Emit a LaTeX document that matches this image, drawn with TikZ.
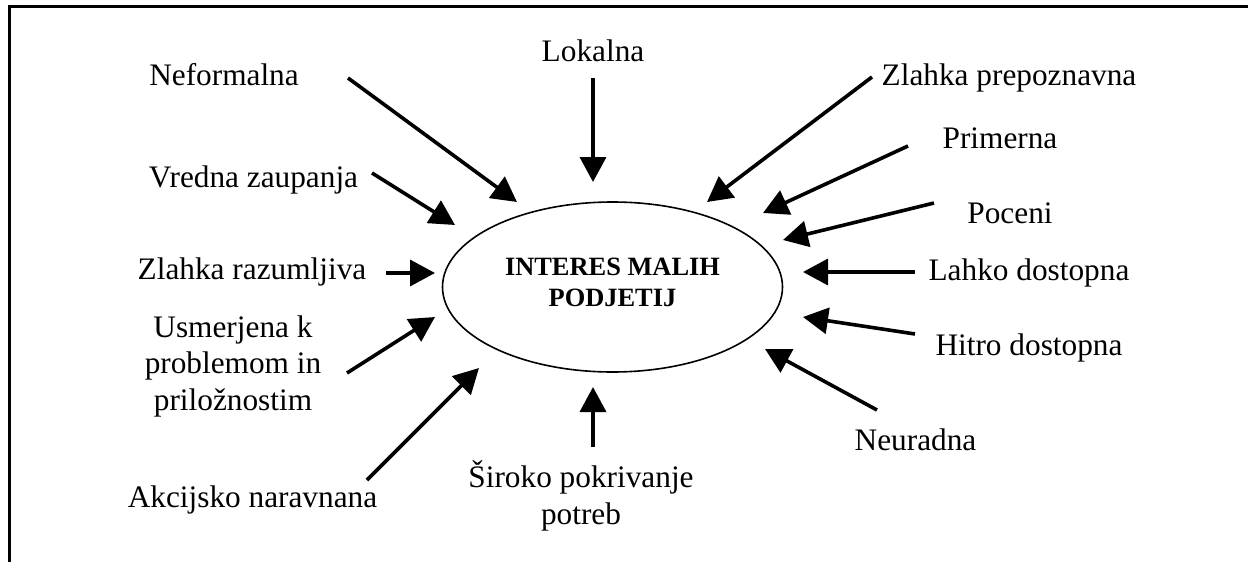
\documentclass[tikz,border=0pt]{standalone}
\usepackage{fontspec}
\setmainfont{Liberation Serif}
\usetikzlibrary{arrows.meta,shapes.geometric}

\tikzset{
  lbl/.style={inner sep=0pt, anchor=base, font=\fontsize{31.3}{36.5}\selectfont},
  mlbl/.style={inner sep=0pt, align=center, font=\fontsize{31.3}{36.5}\selectfont},
  feed/.style={line width=3.6pt, -{Triangle[length=25pt,width=26pt]}},
  frame/.style={line width=3pt},
  core/.style={draw, ellipse, line width=1.6pt, inner sep=0pt,
    minimum width=340pt, minimum height=170pt},
  coretext/.style={inner sep=0pt, align=center,
    font=\fontsize{26.4}{31}\selectfont\bfseries}
}

\begin{document}
\begin{tikzpicture}[x=1pt,y=-1pt]
  \useasboundingbox (0,0) rectangle (1248,562);

  % open frame: top and left edges only
  \draw[frame] (9.5,562) -- (9.5,6) -- (1248,6);

  % central concept
  \node[core] (interes) at (612.5,287) {};
  \node[coretext] (interes-label) at (612.5,282) {INTERES MALIH\\PODJETIJ};

  % surrounding attributes
  \node[lbl] (neformalna) at (224,85) {Neformalna};
  \node[lbl] (lokalna) at (593,61) {Lokalna};
  \node[lbl] (prepoznavna) at (1009,85) {Zlahka prepoznavna};
  \node[lbl] (primerna) at (1000,148) {Primerna};
  \node[lbl] (poceni) at (1010,223) {Poceni};
  \node[lbl] (lahko) at (1029,280) {Lahko dostopna};
  \node[lbl] (hitro) at (1029,355) {Hitro dostopna};
  \node[lbl] (neuradna) at (915.5,450) {Neuradna};
  \node[mlbl] (siroko) at (581,496) {Široko pokrivanje\\potreb};
  \node[lbl] (akcijsko) at (252.5,507) {Akcijsko naravnana};
  \node[mlbl] (usmerjena) at (233,366) {Usmerjena k\\problemom in\\priložnostim};
  \node[lbl] (razumljiva) at (252,279) {Zlahka razumljiva};
  \node[lbl] (vredna) at (253.5,187) {Vredna zaupanja};

  % arrow tails near the labels
  \coordinate (neformalna-s) at (348,78);
  \coordinate (lokalna-s) at (593,78);
  \coordinate (prepoznavna-s) at (872,77);
  \coordinate (primerna-s) at (908,146);
  \coordinate (poceni-s) at (934,203);
  \coordinate (lahko-s) at (915,272);
  \coordinate (hitro-s) at (915,334);
  \coordinate (neuradna-s) at (877,410);
  \coordinate (siroko-s) at (593,447);
  \coordinate (akcijsko-s) at (367,480);
  \coordinate (usmerjena-s) at (347,373);
  \coordinate (razumljiva-s) at (386,273);
  \coordinate (vredna-s) at (372,173);

  % arrow heads around the ellipse
  \coordinate (neformalna-e) at (517,202);
  \coordinate (lokalna-e) at (593,182);
  \coordinate (prepoznavna-e) at (707,202);
  \coordinate (primerna-e) at (763,213);
  \coordinate (poceni-e) at (783,240);
  \coordinate (lahko-e) at (803,272);
  \coordinate (hitro-e) at (803,317);
  \coordinate (neuradna-e) at (765,349);
  \coordinate (siroko-e) at (593,387);
  \coordinate (akcijsko-e) at (479,368);
  \coordinate (usmerjena-e) at (435,317);
  \coordinate (razumljiva-e) at (435,273);
  \coordinate (vredna-e) at (455,225);

  \foreach \n in {neformalna,lokalna,prepoznavna,primerna,poceni,lahko,hitro,
                  neuradna,siroko,akcijsko,usmerjena,razumljiva,vredna}
    \draw[feed] (\n-s) -- (\n-e);
\end{tikzpicture}
\end{document}
